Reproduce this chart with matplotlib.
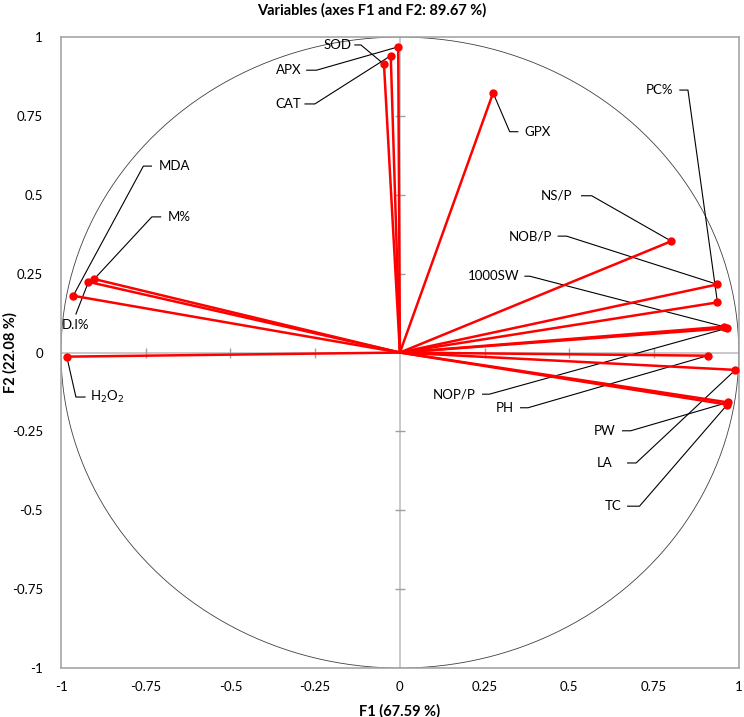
import numpy as np
import matplotlib.pyplot as plt

plt.rcParams["font.family"] = ["Lato", "DejaVu Sans"]

# variable loadings (F1, F2)
names = ["SOD", "APX", "CAT", "GPX", "MDA", "D.I%", "M%", "H2O2",
         "NS/P", "NOB/P", "PC%", "1000SW", "NOP/P", "PH", "LA", "PW", "TC"]
f1 = [-0.005, -0.027, -0.047, 0.275, -0.964, -0.919, -0.902, -0.983,
      0.801, 0.937, 0.937, 0.956, 0.965, 0.908, 0.990, 0.968, 0.966]
f2 = [0.969, 0.941, 0.914, 0.823, 0.180, 0.224, 0.233, -0.013,
      0.353, 0.216, 0.159, 0.082, 0.077, -0.010, -0.055, -0.158, -0.165]

ticks = [-1, -0.75, -0.5, -0.25, 0, 0.25, 0.5, 0.75, 1]
tick_labels = ["-1", "-0.75", "-0.5", "-0.25", "0", "0.25", "0.5", "0.75", "1"]

# label text, text position, leader (start x, elbow x, y), target variable
labels = [
    # text, tx, ty, ha, lx0, lx1, ly, target
    ("SOD", -0.142, 0.975, "right", -0.133, -0.115, 0.975, "CAT"),
    ("APX", -0.289, 0.895, "right", -0.275, -0.246, 0.895, "SOD"),
    ("CAT", -0.292, 0.788, "right", -0.280, -0.251, 0.788, "APX"),
    ("GPX", 0.366, 0.700, "left", 0.348, 0.324, 0.700, "GPX"),
    ("PC%", 0.806, 0.832, "right", 0.826, 0.850, 0.832, "PC%"),
    ("NS/P", 0.508, 0.497, "right", 0.536, 0.566, 0.497, "NS/P"),
    ("NOB/P", 0.450, 0.369, "right", 0.467, 0.492, 0.369, "NOB/P"),
    ("1000SW", 0.352, 0.242, "right", 0.369, 0.383, 0.242, "1000SW"),
    ("NOP/P", 0.224, -0.132, "right", 0.244, 0.264, -0.132, "NOP/P"),
    ("PH", 0.336, -0.175, "right", 0.356, 0.378, -0.175, "PH"),
    ("PW", 0.637, -0.248, "right", 0.657, 0.681, -0.248, "PW"),
    ("LA", 0.627, -0.350, "right", 0.672, 0.697, -0.350, "LA"),
    ("TC", 0.654, -0.487, "right", 0.672, 0.707, -0.487, "TC"),
    ("MDA", -0.713, 0.591, "left", -0.733, -0.757, 0.591, "MDA"),
    ("M%", -0.684, 0.430, "left", -0.706, -0.732, 0.430, "M%"),
    ("H$_2$O$_2$", -0.914, -0.141, "left", -0.929, -0.956, -0.141, "H2O2"),
]

fig = plt.figure(figsize=(7.44, 7.17), dpi=100)
ax = fig.add_axes([0.082, 0.0683, 0.911, 0.880])

# zero lines with small ticks
ax.axhline(0, color="#c0c0c0", lw=1.2, zorder=1)
ax.axvline(0, color="#c0c0c0", lw=1.2, zorder=1)
inner = [t for t in ticks if t not in (-1, 0, 1)]
ax.plot(inner, [0] * len(inner), ls="none", marker="|", ms=7, color="#a0a0a0", zorder=1)
ax.plot([0] * len(inner), inner, ls="none", marker="_", ms=7, color="#a0a0a0", zorder=1)

# correlation circle
th = np.linspace(0, 2 * np.pi, 400)
ax.plot(np.cos(th), np.sin(th), color="#404040", lw=0.6, zorder=1)

# vectors
for x, y in zip(f1, f2):
    ax.plot([0, x], [0, y], color="#ff0000", lw=1.8, zorder=3)
ax.plot(f1, f2, "o", color="#ff0000", ms=5, zorder=4)

# labels with leader lines
pos = dict(zip(names, zip(f1, f2)))
for text, tx, ty, ha, lx0, lx1, ly, tgt in labels:
    px, py = pos[tgt]
    ax.plot([lx0, lx1, px], [ly, ly, py], color="black", lw=0.8, zorder=2)
    ax.text(tx, ty, text, ha=ha, va="center", fontsize=9.5, zorder=5)

# D.I% label with a straight leader
dx, dy = pos["D.I%"]
ax.plot([-0.956, dx], [0.122, dy], color="black", lw=0.8, zorder=2)
ax.text(-0.956, 0.087, "D.I%", ha="center", va="center", fontsize=9.5)

ax.set_xlim(-1, 1)
ax.set_ylim(-1, 1)
ax.set_xticks(ticks)
ax.set_xticklabels(tick_labels)
ax.set_yticks(ticks)
ax.set_yticklabels(tick_labels)
ax.tick_params(length=0, labelsize=9.5)
ax.tick_params(axis="y", pad=13)
ax.tick_params(axis="x", pad=9)
for s in ax.spines.values():
    s.set_color("#a6a6a6")
    s.set_linewidth(1.2)

ax.set_xlabel("F1 (67.59 %)", fontsize=10.5, fontweight="bold", labelpad=8)
ax.set_ylabel("F2 (22.08 %)", fontsize=10.5, fontweight="bold")
ax.yaxis.set_label_coords(-0.064, 0.5)
fig.suptitle("Variables (axes F1 and F2: 89.67 %)", fontsize=10.5, fontweight="bold", y=0.995)

fig.savefig("out.png", dpi=100)
